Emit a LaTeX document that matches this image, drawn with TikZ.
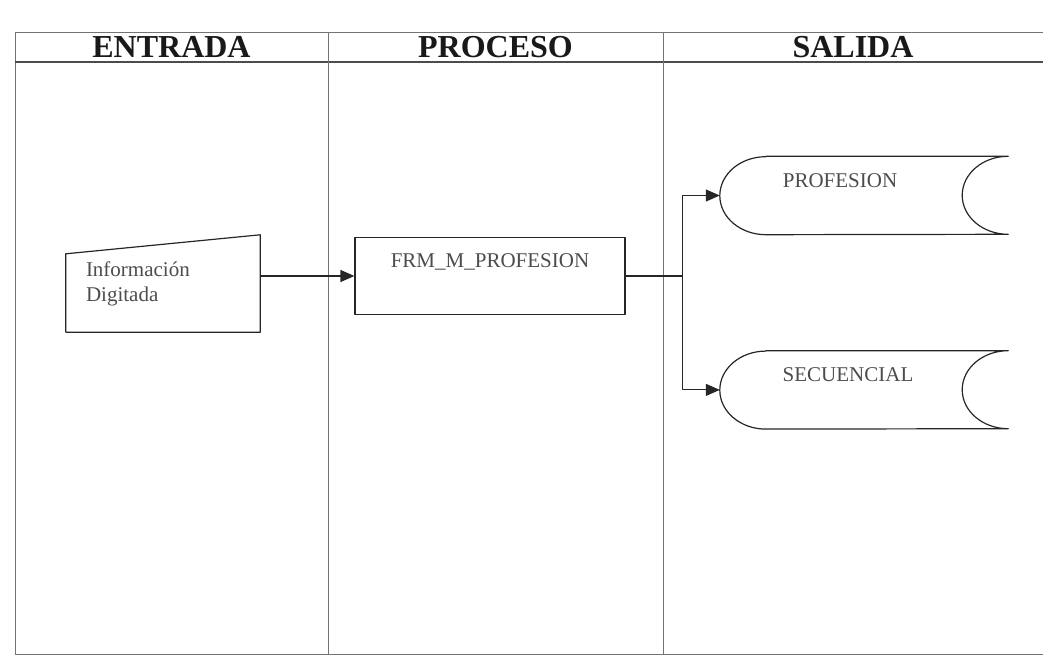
\documentclass[tikz,border=0pt]{standalone}
\usepackage{fontspec}
\setmainfont{Liberation Serif}
\usetikzlibrary{positioning,arrows.meta}

\begin{document}
\begin{tikzpicture}[x=1pt, y=1pt, >={Triangle[length=14pt,width=12pt]}, line join=round]
    \tikzstyle{head}=[font=\fontsize{32}{36}\selectfont\bfseries, text=black!90]
    \tikzstyle{tableline}=[draw=black!55, line width=0.9pt]
    \tikzstyle{outline}=[draw=black!85, line width=1.2pt]
    \tikzstyle{txt}=[font=\fontsize{21}{25}\selectfont, text=black!70]
    \tikzstyle{box}=[draw=black!85, line width=1.2pt, minimum width=270pt, minimum height=77pt, inner sep=0pt]
    \tikzstyle{store}=[minimum width=288pt, minimum height=78pt, inner sep=0pt]
    \tikzstyle{toplabel}=[txt, anchor=base, inner sep=0pt, yshift=-31pt]
    \tikzstyle{flow}=[->, draw=black!85, line width=1.2pt]

    \useasboundingbox (0,0) rectangle (1043,664);

    % Table
    \draw[tableline] (1043,632) -- (15,632) -- (15,10) -- (1043,10);
    \draw[tableline, draw=black!70, line width=1.2pt] (15,602) -- (1043,602);
    \draw[tableline] (328,632) -- (328,10);
    \draw[tableline] (663,632) -- (663,10);

    % Column heads
    \node[head] (hin) at (171.5,617) {ENTRADA};
    \node[head] (hproc) at (495.5,617) {PROCESO};
    \node[head] (hout) at (853,617) {SALIDA};

    % Input (manual input)
    \node[txt, text width=154pt, inner xsep=20pt, inner ysep=0pt, minimum height=97pt, align=left] (inp) at (163,380.5) {Información\\Digitada};
    \draw[outline] (inp.south west) -- (inp.south east) -- (inp.north east) -- ([yshift=-19pt]inp.north west) -- cycle;

    % Process
    \node[box, label={[toplabel]north:FRM\_M\_PROFESION}] (proc) at (490,388) {};

    % Outputs (stored data)
    \node[store, label={[toplabel, xshift=-24pt]north:PROFESION}] (prof) at (864,468.5) {};
    \node[store, below=116pt of prof, label={[toplabel, xshift=-16pt]north:SECUENCIAL}] (sec) {};
    \foreach \s in {prof,sec}
        \draw[outline] ([xshift=46pt]\s.north west) -- (\s.north east)
            arc[start angle=90, end angle=270, x radius=46pt, y radius=39pt]
            -- ([xshift=46pt]\s.south west)
            arc[start angle=270, end angle=90, x radius=46pt, y radius=39pt] -- cycle;

    % Connections
    \coordinate (split) at ([xshift=57pt]proc.east);
    \draw[flow] (inp.east |- proc.west) -- (proc.west);
    \draw[outline] (proc.east) -- (split);
    \draw[flow] (split) |- (prof.west);
    \draw[flow] (split) |- (sec.west);
\end{tikzpicture}
\end{document}
